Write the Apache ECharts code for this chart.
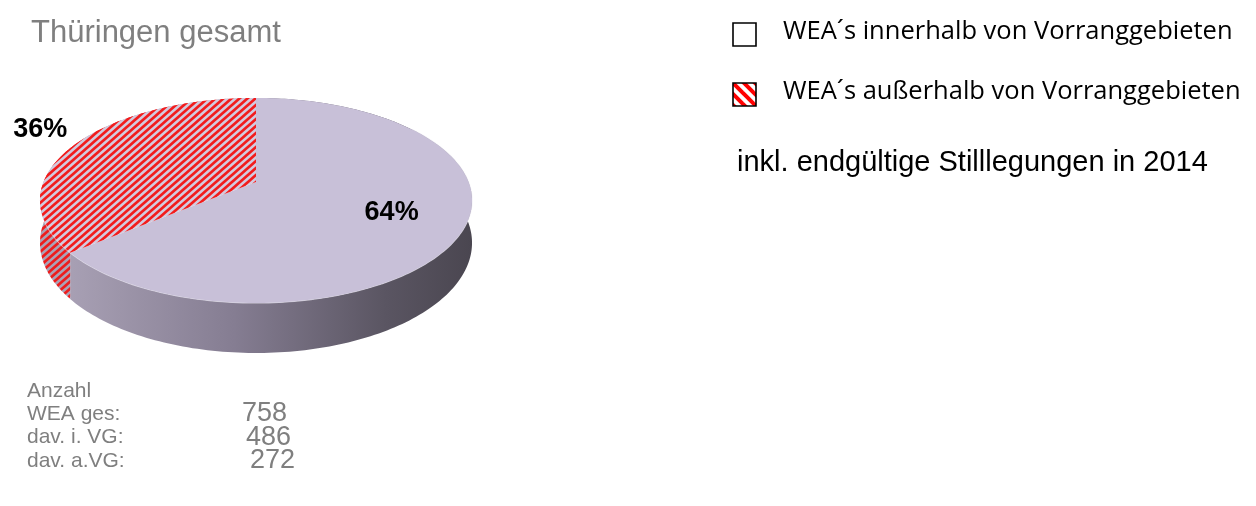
<!DOCTYPE html>
<html>
<head>
<meta charset="utf-8">
<script src="https://cdn.jsdelivr.net/npm/echarts@6/dist/echarts.min.js"></script>
<style>
  html, body { margin: 0; padding: 0; background: #ffffff; }
  #chart { width: 1256px; height: 506px; }
</style>
</head>
<body>
<div id="chart"></div>
<script>
// ---- data ----
const categories = ['WEA´s innerhalb von Vorranggebieten', 'WEA´s außerhalb von Vorranggebieten'];
const values = [486, 272];
const countLabels = ['WEA ges:', 'dav. i. VG:', 'dav. a.VG:'];
const countValues = [758, 486, 272];
const countHeading = 'Anzahl';
const titleText = 'Thüringen gesamt';
const noteText = 'inkl. endgültige Stilllegungen in 2014';

// ---- disc geometry: a flat cylinder seen in perspective ----
const disc = { cx: 256, cy: 182, rx: 212.5, ry: 99.2, k: 0.18, h: 41 };
const labelRadius = [0.67, 1.25];
const topColors = ['#c8c0d8', null];

// hatch fills
function hatch(w, h, bg, fg, lw, rising) {
  const c = document.createElement('canvas');
  c.width = w; c.height = h;
  const g = c.getContext('2d');
  g.fillStyle = bg; g.fillRect(0, 0, w, h);
  g.strokeStyle = fg; g.lineWidth = lw;
  for (let o = -w; o <= w; o += w) {
    g.beginPath();
    if (rising) { g.moveTo(o - w, 2 * h); g.lineTo(o + 2 * w, -h); }
    else { g.moveTo(o - w, -h); g.lineTo(o + 2 * w, 2 * h); }
    g.stroke();
  }
  return { image: c, repeat: 'repeat' };
}
const topHatch = hatch(8, 7, '#d2cbdf', '#f21c1c', 2.7, true);
const sideHatch = hatch(8, 7, '#aaa2b6', '#ee1c1c', 2.7, true);
const legendHatch = hatch(11, 11, '#ffffff', '#ff0000', 4, false);

function project(a, r, drop) {
  const X = Math.sin(a) * r, Y = -Math.cos(a) * r;
  const d = 1 - disc.k * Y;
  return [disc.cx + disc.rx * X / d, disc.cy + (disc.ry * Y + (drop ? disc.h : 0)) / d];
}
function arc(a0, a1, r, drop) {
  const n = Math.max(2, Math.ceil(Math.abs(a1 - a0) / 0.02));
  const pts = [];
  for (let j = 0; j <= n; j++) pts.push(project(a0 + (a1 - a0) * j / n, r, drop));
  return pts;
}

const total = values.reduce((s, v) => s + v, 0);

function renderItem(params, api) {
  const i = params.dataIndex;
  let before = 0;
  for (let j = 0; j < i; j++) before += values[j];
  const v = api.value(0);
  const a0 = before / total * Math.PI * 2;
  const a1 = (before + v) / total * Math.PI * 2;

  const topArc = arc(a0, a1, 1, false);
  const bottomArc = arc(a1, a0, 1, true);
  const sideFill = i === 0 ? {
    type: 'linear', x: disc.cx - disc.rx * 1.02, y: 0, x2: disc.cx + disc.rx * 1.02, y2: 0, global: true,
    colorStops: [
      { offset: 0, color: '#aea6ba' },
      { offset: 0.45, color: '#857d92' },
      { offset: 0.8, color: '#5a5562' },
      { offset: 1, color: '#4a4650' }
    ]
  } : sideHatch;

  const mid = (a0 + a1) / 2;
  const lp = project(mid, labelRadius[i], false);
  const pct = Math.round(v / total * 100) + '%';

  return {
    type: 'group',
    children: [
      { type: 'polygon', z2: 1, shape: { points: topArc.concat(bottomArc) }, style: { fill: sideFill } },
      { type: 'polyline', z2: 4, shape: { points: arc(Math.max(a0, Math.PI * 0.3), Math.min(a1, Math.PI * 1.4), 1, false) },
        style: { stroke: 'rgba(235,232,242,0.7)', lineWidth: 1.2, fill: null }, invisible: a1 <= Math.PI * 0.3 || a0 >= Math.PI * 1.4 },
      { type: 'polygon', z2: 5, shape: { points: [[disc.cx, disc.cy]].concat(topArc) },
        style: { fill: topColors[i] || topHatch } },
      { type: 'text', z2: 10, x: lp[0] + (i === 1 ? 3 : 0), y: lp[1] - (i === 1 ? 4 : 0),
        style: { text: pct, fill: '#000000', font: 'bold 27px "Liberation Sans", Arial, sans-serif',
                 align: 'center', verticalAlign: 'middle' } }
    ]
  };
}

const chart = echarts.init(document.getElementById('chart'));

const graphics = [];
// legend
const legendFills = [{ fill: '#ffffff' }, { fill: legendHatch }];
categories.forEach((name, i) => {
  const y = 23 + i * 60;
  graphics.push({ type: 'rect', x: 733, y: y, shape: { width: 23, height: 23 },
    style: Object.assign({ stroke: '#000000', lineWidth: 1.6 }, legendFills[i]) });
  graphics.push({ type: 'text', x: 783, y: y + 9, style: { text: name, fill: '#000000',
    font: '25.5px "Open Sans", Lato, sans-serif', verticalAlign: 'middle' } });
});
graphics.push({ type: 'text', x: 737, y: 163, style: { text: noteText, fill: '#000000',
  font: '29px "Liberation Sans", Arial, sans-serif', verticalAlign: 'middle' } });
// counts block
graphics.push({ type: 'text', x: 27, y: 391, style: { text: countHeading, fill: '#7f7f7f',
  font: '21px "Liberation Sans", Arial, sans-serif', verticalAlign: 'middle' } });
countLabels.forEach((lab, i) => {
  const y = 414 + i * 23.5;
  graphics.push({ type: 'text', x: 27, y: y, style: { text: lab, fill: '#7f7f7f',
    font: '21px "Liberation Sans", Arial, sans-serif', verticalAlign: 'middle' } });
  graphics.push({ type: 'text', x: 242 + i * 4, y: y, style: { text: String(countValues[i]), fill: '#7f7f7f',
    font: '27px "Liberation Sans", Arial, sans-serif', verticalAlign: 'middle' } });
});

chart.setOption({
  animation: false,
  backgroundColor: '#ffffff',
  title: {
    text: titleText, left: 26, top: 13,
    textStyle: { color: '#7f7f7f', fontSize: 31, fontWeight: 'normal', fontFamily: '"Liberation Sans", Arial, sans-serif' }
  },
  series: [{
    type: 'custom',
    coordinateSystem: 'none',
    renderItem: renderItem,
    data: values.map((v, i) => ({ name: categories[i], value: [v] }))
  }],
  graphic: graphics
});
</script>
</body>
</html>
